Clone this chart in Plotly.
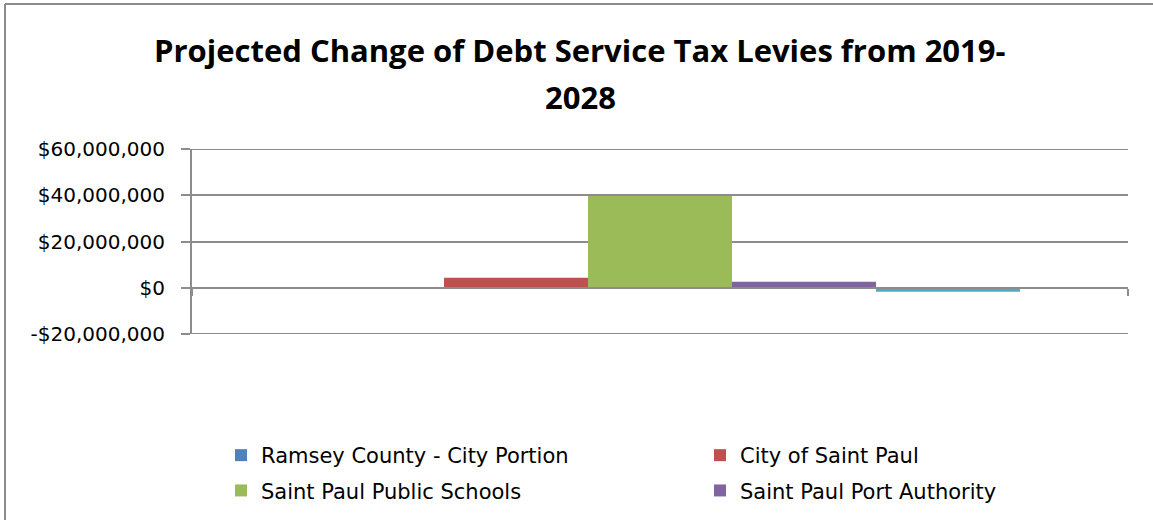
import plotly.graph_objects as go

# Data
series_names = [
    "Ramsey County - City Portion",
    "City of Saint Paul",
    "Saint Paul Public Schools",
    "Saint Paul Port Authority",
    "Ramsey County Regional Railroad Authority",
]
series_values = [0, 4300000, 39700000, 2600000, -1700000]
series_colors = ["#4F81BD", "#C0504D", "#9BBB59", "#8064A2", "#4BACC6"]
series_legend = ["legend", "legend2", "legend", "legend2", None]
tick_values = [-20000000, 0, 20000000, 40000000, 60000000]
tick_labels = ["-$20,000,000", "$0", "$20,000,000", "$40,000,000", "$60,000,000"]
title_lines = ["Projected Change of Debt Service Tax Levies from 2019-", "2028"]
category = [0]

fig = go.Figure()
for name, val, col, lg in zip(series_names, series_values, series_colors, series_legend):
    kw = dict(showlegend=lg is not None)
    if lg is not None:
        kw["legend"] = lg
        kw["legendgroup"] = name
    fig.add_trace(go.Bar(x=category, y=[val], name=name,
                         marker=dict(color=col, line=dict(width=0)), **kw))

L, R, T, B = 192, 25, 149, 186
W, H = 1153, 520
pw, ph = W - L - R, H - T - B


def px_x(p):
    return (p - L) / pw


def px_y(p):
    return (H - B - p) / ph


grid = "#8C8C8C"
tick_font = "'DejaVu Sans', Verdana, sans-serif"
title_font = "'Open Sans', sans-serif"

annotations = [
    dict(text="<b>%s</b>" % line, xref="paper", yref="paper", x=px_x(580), y=px_y(yc),
         xanchor="center", yanchor="middle", showarrow=False,
         font=dict(size=31, family=title_font, color="black"))
    for line, yc in zip(title_lines, [50, 97])
]

ymin, ymax = tick_values[0], tick_values[-1]

# chart border (top and left) plus gridlines at the axis range ends
shapes = [
    dict(type="line", xref="paper", yref="paper", x0=px_x(5), x1=px_x(W), y0=px_y(4), y1=px_y(4),
         line=dict(color=grid, width=2)),
    dict(type="line", xref="paper", yref="paper", x0=px_x(5), x1=px_x(5), y0=px_y(4), y1=px_y(H),
         line=dict(color=grid, width=2)),
]
for v in (ymin, ymax):
    shapes.append(dict(type="line", xref="paper", yref="y", x0=px_x(183), x1=1, y0=v, y1=v,
                       layer="below", line=dict(color=grid, width=2)))

fig.update_layout(
    width=W, height=H,
    margin=dict(l=L, r=R, t=T, b=B, pad=0, autoexpand=False),
    paper_bgcolor="white", plot_bgcolor="white",
    barmode="group", bargap=0.2308, bargroupgap=0,
    font=dict(family=tick_font, color="black"),
    annotations=annotations,
    shapes=shapes,
    xaxis=dict(
        range=[-0.5, 0.5], showgrid=False, zeroline=False,
        anchor="free", position=(0 - ymin) / (ymax - ymin),
        showline=True, linecolor=grid, linewidth=2,
        tickvals=[-0.5, 0.5], ticks="outside", ticklen=7, tickwidth=2, tickcolor=grid,
        showticklabels=False,
    ),
    yaxis=dict(
        range=[ymin, ymax],
        tickvals=tick_values, ticktext=tick_labels,
        showgrid=True, gridcolor=grid, gridwidth=2,
        zeroline=False,
        showline=True, linecolor=grid, linewidth=2,
        ticks="outside", ticklen=9, tickwidth=2, tickcolor=grid,
        tickfont=dict(size=20, family=tick_font, color="black"),
        ticklabelstandoff=12,
    ),
    legend=dict(
        orientation="v", x=px_x(221), xanchor="left", y=px_y(435), yanchor="top",
        font=dict(size=21, family=tick_font, color="black"),
        traceorder="grouped", tracegroupgap=5, bgcolor="rgba(0,0,0,0)",
    ),
    legend2=dict(
        orientation="v", x=px_x(700), xanchor="left", y=px_y(435), yanchor="top",
        font=dict(size=21, family=tick_font, color="black"),
        traceorder="grouped", tracegroupgap=5, bgcolor="rgba(0,0,0,0)",
    ),
)

fig.write_html("out.html")
